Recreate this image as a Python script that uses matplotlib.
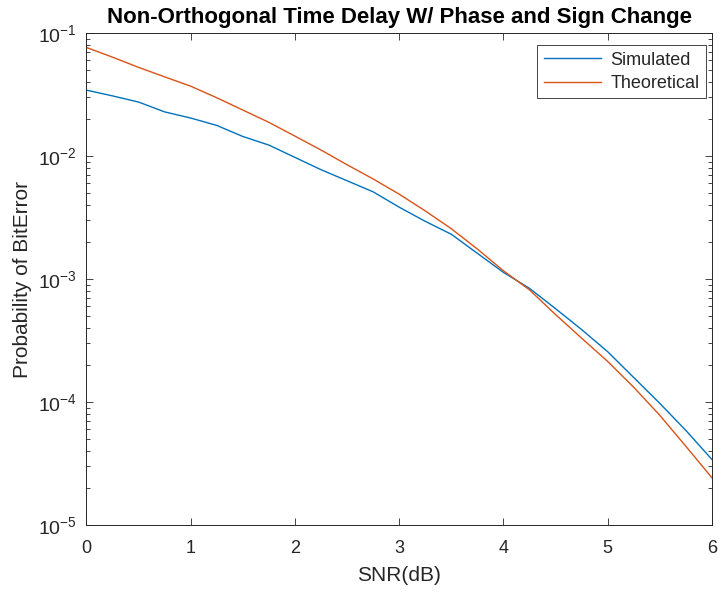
import numpy as np
import matplotlib
matplotlib.use("Agg")
import matplotlib.pyplot as plt
from matplotlib.ticker import LogLocator, FixedLocator, NullFormatter

# values (log10 of bit error probability)
snr_db = np.arange(0, 6.01, 0.25)
sim_log = [-1.463, -1.51, -1.56, -1.64, -1.69, -1.75, -1.84, -1.91, -2.01,
           -2.11, -2.20, -2.29, -2.415, -2.53, -2.635, -2.79, -2.945,
           -3.075, -3.24, -3.41, -3.59, -3.80, -4.01, -4.23, -4.466]
theo_log = [-1.116, -1.195, -1.278, -1.355, -1.431, -1.525, -1.625, -1.725,
            -1.837, -1.95, -2.07, -2.185, -2.309, -2.445, -2.59, -2.755,
            -2.932, -3.087, -3.288, -3.48, -3.669, -3.879, -4.107, -4.359,
            -4.615]
y_ticks = [1e-5, 1e-4, 1e-3, 1e-2, 1e-1]
y_labels = ['$10^{-5}$', '$10^{-4}$', '$10^{-3}$', '$10^{-2}$', '$10^{-1}$']

sim_ber = 10 ** np.array(sim_log)
theo_ber = 10 ** np.array(theo_log)

plt.rcParams['font.family'] = ['Liberation Sans', 'DejaVu Sans']
plt.rcParams['mathtext.fontset'] = 'custom'
plt.rcParams['mathtext.rm'] = 'Liberation Sans'
plt.rcParams['mathtext.it'] = 'Liberation Sans'
dark = '#262626'

fig = plt.figure(figsize=(7.19, 5.93), dpi=100)
ax = fig.add_axes([0.1203, 0.1147, 0.8697, 0.8293])

ax.semilogy(snr_db, sim_ber, color='#0072BD', lw=1.0, label='Simulated')
ax.semilogy(snr_db, theo_ber, color='#D95319', lw=1.0, label='Theoretical')

ax.set_xlim(0, 6)
ax.set_ylim(1e-5, 1e-1)
ax.xaxis.set_major_locator(FixedLocator(range(0, 7)))
ax.set_yticks(y_ticks)
ax.set_yticklabels(y_labels)
ax.yaxis.set_minor_locator(LogLocator(base=10, subs=np.arange(2, 10), numticks=10))
ax.yaxis.set_minor_formatter(NullFormatter())

ax.tick_params(which='both', direction='in', top=True, right=True,
               colors=dark, width=0.6)
ax.tick_params(which='major', length=5)
ax.tick_params(which='minor', length=3)
ax.tick_params(axis='x', labelsize=13, pad=11)
ax.tick_params(axis='y', labelsize=14, pad=7)
for s in ax.spines.values():
    s.set_color(dark)
    s.set_linewidth(0.7)

ax.set_title('Non-Orthogonal Time Delay W/ Phase and Sign Change',
             fontsize=16, fontweight='bold', color='black', pad=7)
ax.set_xlabel('SNR(dB)', fontsize=15, color=dark, labelpad=6)
ax.set_ylabel('Probability of BitError', fontsize=15, color=dark, labelpad=4)

leg = ax.legend(loc='upper right', bbox_to_anchor=(0.9904, 0.9756),
                fontsize=13, frameon=True, fancybox=False,
                edgecolor=dark, framealpha=1, handlelength=3.2,
                borderaxespad=0, borderpad=0.35, labelspacing=0.35,
                handletextpad=0.5)
leg.get_frame().set_linewidth(0.6)
for t in leg.get_texts():
    t.set_color(dark)

fig.savefig('out.png', dpi=100)
